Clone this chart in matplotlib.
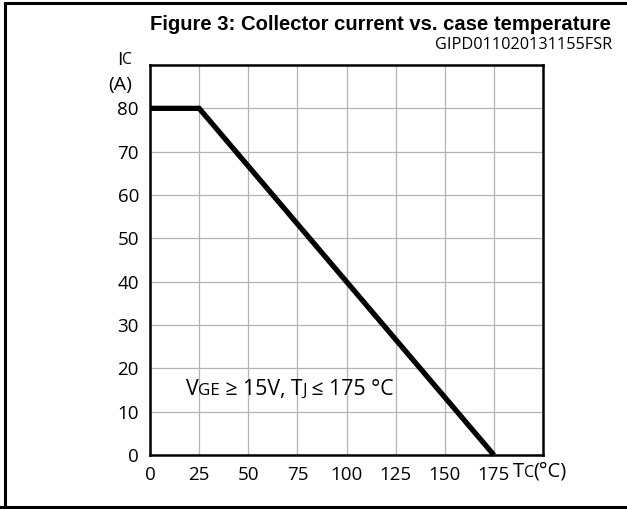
import matplotlib
matplotlib.use("Agg")
import matplotlib.pyplot as plt
from matplotlib.lines import Line2D

# derating curve: collector current vs case temperature
tc = [0, 25, 175]
ic = [80, 80, 0]
xticks = [0, 25, 50, 75, 100, 125, 150, 175]
yticks = [0, 10, 20, 30, 40, 50, 60, 70, 80]

title = "Figure 3: Collector current vs. case temperature"
code = "GIPD011020131155FSR"

FONT = "Open Sans"

fig = plt.figure(figsize=(6.27, 5.09), dpi=100)
ax = fig.add_axes([150 / 627, 1 - 455 / 509, (543 - 150) / 627, (455 - 65) / 509])

ax.plot(tc, ic, color="black", lw=3.8, solid_capstyle="butt", solid_joinstyle="miter", clip_on=False, zorder=3)

ax.set_xlim(0, 200)
ax.set_ylim(0, 90)
ax.set_xticks(xticks)
ax.set_yticks(yticks)
ax.set_xticks([200], minor=True)
ax.grid(True, which="both", color="#b4b4b4", lw=0.9)
ax.set_axisbelow(True)
for s in ax.spines.values():
    s.set_linewidth(1.8)
ax.tick_params(length=0, which="both", labelsize=13.5, pad=8)
for lab in ax.get_xticklabels() + ax.get_yticklabels():
    lab.set_fontfamily(FONT)
ax.set_xticklabels([str(v) for v in xticks])


def chain(parts, x, y, coords, size, ha="left"):
    # draw text pieces one after another on a common baseline
    prev = None
    prev_scale = 1.0
    for txt, scale in parts:
        if prev is None:
            prev = ax.text(x, y, txt, transform=coords, fontsize=size * scale,
                           family=FONT, va="baseline", ha=ha)
        else:
            # smaller glyphs have a smaller descent, lift them back onto the baseline
            dy = (scale - prev_scale) * size * -0.27
            prev = ax.annotate(txt, xy=(1, 0), xycoords=prev, xytext=(-0.3, dy),
                               textcoords="offset points", fontsize=size * scale,
                               family=FONT, va="bottom", ha="left",
                               annotation_clip=False)
            # the next piece is placed against this one's box
        prev_scale = scale
    return prev


# axis captions
chain([("I", 1.0), ("C", 0.8)], 117 / 627, 1 - 65 / 509, fig.transFigure, 14)
fig.text(108 / 627, 1 - 90 / 509, "(A)", fontsize=14, family=FONT, va="baseline")
chain([("T", 1.0), ("C", 0.8), ("(°C)", 1.0)], 513 / 627, 1 - 477 / 509, fig.transFigure, 14.5)

# conditions
chain([("V", 1.0), ("GE", 0.8), (" ≥ 15V, T", 1.0), ("J", 0.8), (" ≤ 175 °C", 1.0)],
      18.4, 13.8, ax.transData, 15.3)

fig.text(380 / 627, 1 - 30 / 509, title, ha="center", va="baseline",
         fontsize=14.6, fontweight="bold", family="Liberation Sans")
fig.text(612 / 627, 1 - 49 / 509, code, ha="right", va="baseline",
         fontsize=11.7, family=FONT)

# page frame
fig.add_artist(Line2D([5 / 627, 1], [1 - 3 / 509] * 2, color="black", lw=2.2, transform=fig.transFigure))
fig.add_artist(Line2D([5 / 627, 5 / 627], [1 - 3 / 509, 1 - 507 / 509], color="black", lw=2.2, transform=fig.transFigure))
fig.add_artist(Line2D([0, 1], [1 - 507 / 509] * 2, color="black", lw=2.2, transform=fig.transFigure))

fig.savefig("out.png", dpi=100)
